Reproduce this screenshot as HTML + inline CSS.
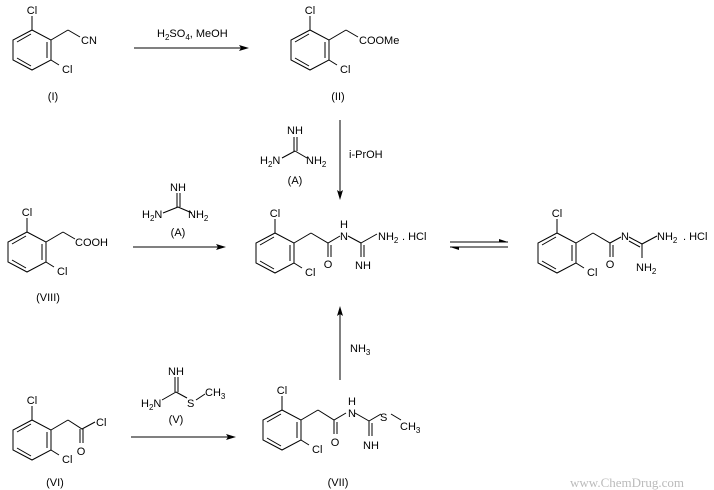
<!DOCTYPE html>
<html><head><meta charset="utf-8"><style>
html,body{margin:0;padding:0;background:#fff;}
svg{display:block;font-family:"Liberation Sans",sans-serif;font-size:11px;}
text{fill:#000;}
.s{font-size:8px;}
</style></head><body>
<svg width="714" height="490" viewBox="0 0 714 490" xmlns="http://www.w3.org/2000/svg">
<defs>
<g id="ring" stroke="#000" stroke-width="1" fill="none">
<polygon points="0,0 19,10 19,30 0,40 -19,30 -19,10"/>
<line x1="-15" y1="12" x2="-1" y2="4"/>
<line x1="15" y1="12" x2="15" y2="28"/>
<line x1="-15" y1="28" x2="-1" y2="36"/>
<line x1="0" y1="0" x2="0" y2="-14"/>
<line x1="19" y1="30" x2="27" y2="35"/>
<line x1="19" y1="10" x2="36" y2="0"/>
</g>
</defs>
<g stroke="#000" stroke-width="1" fill="none">
<use href="#ring" x="32" y="30"/>
<line x1="68" y1="30" x2="80" y2="37"/>
<use href="#ring" x="310" y="30"/>
<line x1="346" y1="30" x2="358" y2="37"/>
<use href="#ring" x="27" y="232"/>
<line x1="63" y1="232" x2="75" y2="239"/>
<use href="#ring" x="275" y="233"/>
<polyline points="311,233 328,243 340,236"/>
<line x1="328" y1="243" x2="328" y2="257"/><line x1="331" y1="245" x2="331" y2="257"/>
<line x1="348" y1="236" x2="361" y2="243"/>
<line x1="361" y1="243" x2="377" y2="234"/>
<line x1="361" y1="243" x2="361" y2="257"/><line x1="364" y1="245" x2="364" y2="257"/>
<use href="#ring" x="557" y="233"/>
<polyline points="593,233 610,243 621,237"/>
<line x1="610" y1="243" x2="610" y2="257"/><line x1="613" y1="245" x2="613" y2="257"/>
<line x1="629" y1="237" x2="642" y2="244"/><line x1="629" y1="241" x2="640" y2="247"/>
<line x1="642" y1="244" x2="657" y2="236"/>
<line x1="642" y1="244" x2="642" y2="258"/>
<use href="#ring" x="32" y="420"/>
<polyline points="68,420 82,429 95,422"/>
<line x1="80" y1="429" x2="80" y2="443"/><line x1="83" y1="429" x2="83" y2="443"/>
<use href="#ring" x="282" y="410"/>
<polyline points="318,410 334,420 346,413"/>
<line x1="334" y1="420" x2="334" y2="434"/><line x1="337" y1="422" x2="337" y2="434"/>
<line x1="355" y1="413" x2="369" y2="421"/>
<line x1="369" y1="421" x2="381" y2="414"/>
<line x1="369" y1="421" x2="369" y2="436"/><line x1="372" y1="423" x2="372" y2="436"/>
<line x1="391" y1="414" x2="401" y2="420"/>
<line x1="294" y1="137" x2="294" y2="151"/><line x1="297" y1="137" x2="297" y2="151"/>
<line x1="295" y1="151" x2="282" y2="158"/><line x1="295" y1="151" x2="307" y2="158"/>
<line x1="177" y1="193" x2="177" y2="207"/><line x1="180" y1="193" x2="180" y2="207"/>
<line x1="178" y1="207" x2="163" y2="213"/><line x1="178" y1="207" x2="192" y2="213"/>
<line x1="175" y1="377" x2="175" y2="392"/><line x1="178" y1="377" x2="178" y2="392"/>
<line x1="176" y1="392" x2="162" y2="400"/><line x1="176" y1="392" x2="187" y2="398"/>
<line x1="196" y1="400" x2="205" y2="394"/>
<line x1="134" y1="48" x2="246" y2="48"/>
<line x1="340" y1="120" x2="340" y2="196"/>
<line x1="133" y1="247" x2="222" y2="247"/>
<line x1="340" y1="380" x2="340" y2="311"/>
<line x1="131" y1="437" x2="232" y2="437"/>
<line x1="450" y1="242" x2="508" y2="242"/>
<line x1="450" y1="247" x2="508" y2="247"/>
</g>
<g fill="#000">
<polygon points="249,48 239,45 241,48 239,51"/>
<polygon points="340,200 337,190 340,192 343,190"/>
<polygon points="226,247 216,244 218,247 216,250"/>
<polygon points="340,306 337,316 340,314 343,316"/>
<polygon points="236,437 226,434 228,437 226,440"/>
<polygon points="508,242 499,239 499,242"/>
<polygon points="450,247 459,250 459,247"/>
</g>
<g text-anchor="middle">
<text x="32" y="14">Cl</text><text x="310" y="14">Cl</text><text x="27" y="216">Cl</text>
<text x="275" y="217">Cl</text><text x="557" y="217">Cl</text><text x="32" y="404">Cl</text><text x="282" y="394">Cl</text>
<text x="53" y="100">(I)</text><text x="338" y="100">(II)</text><text x="48" y="301">(VIII)</text>
<text x="55" y="486">(VI)</text><text x="338" y="486">(VII)</text>
<text x="295" y="134">NH</text><text x="295" y="184">(A)</text>
<text x="178" y="191">NH</text><text x="178" y="236">(A)</text>
<text x="176" y="375">NH</text><text x="176" y="423">(V)</text>
<text x="344" y="228">H</text><text x="344" y="240">N</text>
<text x="328" y="268">O</text><text x="363" y="269">NH</text>
<text x="610" y="268">O</text><text x="625" y="240">N</text>
<text x="352" y="405">H</text><text x="352" y="417">N</text>
<text x="335" y="446">O</text><text x="371" y="449">NH</text>
<text x="81" y="455">O</text>
</g>
<text x="62" y="73">Cl</text><text x="340" y="73">Cl</text><text x="57" y="275">Cl</text>
<text x="305" y="276">Cl</text><text x="587" y="276">Cl</text><text x="62" y="463">Cl</text><text x="312" y="453">Cl</text>
<text x="81" y="44">CN</text>
<text x="359" y="44">COOMe</text>
<text x="75" y="246">COOH</text>
<text x="96" y="426">Cl</text>
<text x="378" y="240">NH<tspan class="s" dy="3">2</tspan></text>
<text x="402" y="240">. HCl</text>
<text x="657" y="240">NH<tspan class="s" dy="3">2</tspan></text>
<text x="636" y="271">NH<tspan class="s" dy="3">2</tspan></text>
<text x="683" y="240">. HCl</text>
<text x="380" y="421">S</text>
<text x="400" y="430">CH<tspan class="s" dy="3">3</tspan></text>
<text x="260" y="164">H<tspan class="s" dy="3">2</tspan><tspan dy="-3">N</tspan></text>
<text x="306" y="164">NH<tspan class="s" dy="3">2</tspan></text>
<text x="142" y="218">H<tspan class="s" dy="3">2</tspan><tspan dy="-3">N</tspan></text>
<text x="188" y="218">NH<tspan class="s" dy="3">2</tspan></text>
<text x="141" y="407">H<tspan class="s" dy="3">2</tspan><tspan dy="-3">N</tspan></text>
<text x="187" y="407">S</text>
<text x="205" y="396">CH<tspan class="s" dy="3">3</tspan></text>
<text x="157" y="37">H<tspan class="s" dy="3">2</tspan><tspan dy="-3">SO</tspan><tspan class="s" dy="3">4</tspan><tspan dy="-3">, MeOH</tspan></text>
<text x="349" y="158">i-PrOH</text>
<text x="350" y="352">NH<tspan class="s" dy="3">3</tspan></text>
<text x="570" y="487" style="font-family:'Liberation Serif',serif;font-size:13px;fill:#bbb">www.ChemDrug.com</text>
</svg>
</body></html>
